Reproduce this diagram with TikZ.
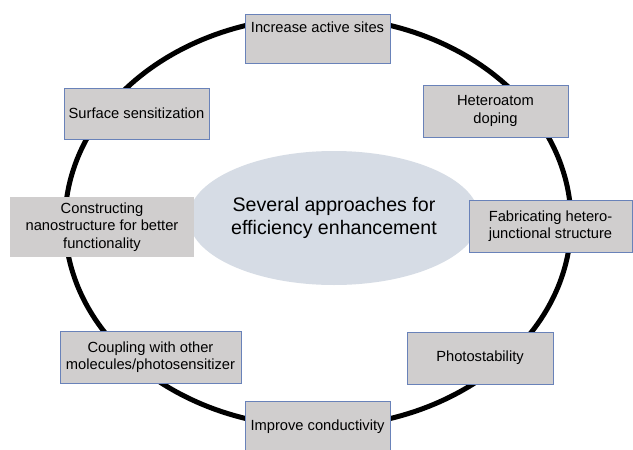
\documentclass[tikz,border=0pt]{standalone}
\usepackage{fontspec}
\setmainfont{Liberation Sans}
\usetikzlibrary{shapes.geometric}
\definecolor{boxfill}{RGB}{208,206,206}
\definecolor{boxline}{RGB}{105,130,185}
\definecolor{ellfill}{RGB}{214,220,229}
\tikzset{
  appbox/.style={rectangle, fill=boxfill, draw=boxline, line width=0.8pt, align=center,
    font=\fontsize{14.7}{17.5}\selectfont, inner sep=0pt},
  plainbox/.style={appbox, draw=none},
  ringline/.style={line width=5pt, black},
  core/.style={ellipse, fill=ellfill, draw=none, align=center, inner sep=0pt,
    minimum width=250pt, minimum height=134pt, font=\fontsize{19.6}{23}\selectfont}
}
\begin{document}
\begin{tikzpicture}[x=1pt,y=-1pt]
\useasboundingbox (0,0) rectangle (633,450);
\fill[white] (0,0) rectangle (633,450);
\draw[ringline] (318,222) ellipse [x radius=253pt, y radius=205pt];
\node[core] (center) at (334,218) {Several approaches for\\efficiency enhancement};
\node[appbox, minimum width=145pt, text height=11pt, text depth=24pt, inner ysep=7pt] (inc) at (317.5,38.5) {Increase active sites};
\node[appbox, minimum width=145pt, minimum height=51pt] (surf) at (136.5,113.5) {Surface sensitization};
\node[appbox, minimum width=145pt, minimum height=52pt] (het) at (495.5,111) {Heteroatom\\doping};
\node[plainbox, minimum width=184pt, minimum height=60pt] (cons) at (102,227) {Constructing\\nanostructure for better\\functionality};
\node[appbox, minimum width=163pt, minimum height=52pt] (fab) at (550.5,226) {Fabricating hetero-\\junctional structure};
\node[appbox, minimum width=181pt, minimum height=52pt] (coup) at (150.5,357) {Coupling with other\\molecules/photosensitizer};
\node[appbox, minimum width=146pt, minimum height=52pt] (photo) at (480,358) {Photostability};
\node[appbox, minimum width=145pt, minimum height=51pt] (impr) at (317.5,426.5) {Improve conductivity};
\end{tikzpicture}
\end{document}
